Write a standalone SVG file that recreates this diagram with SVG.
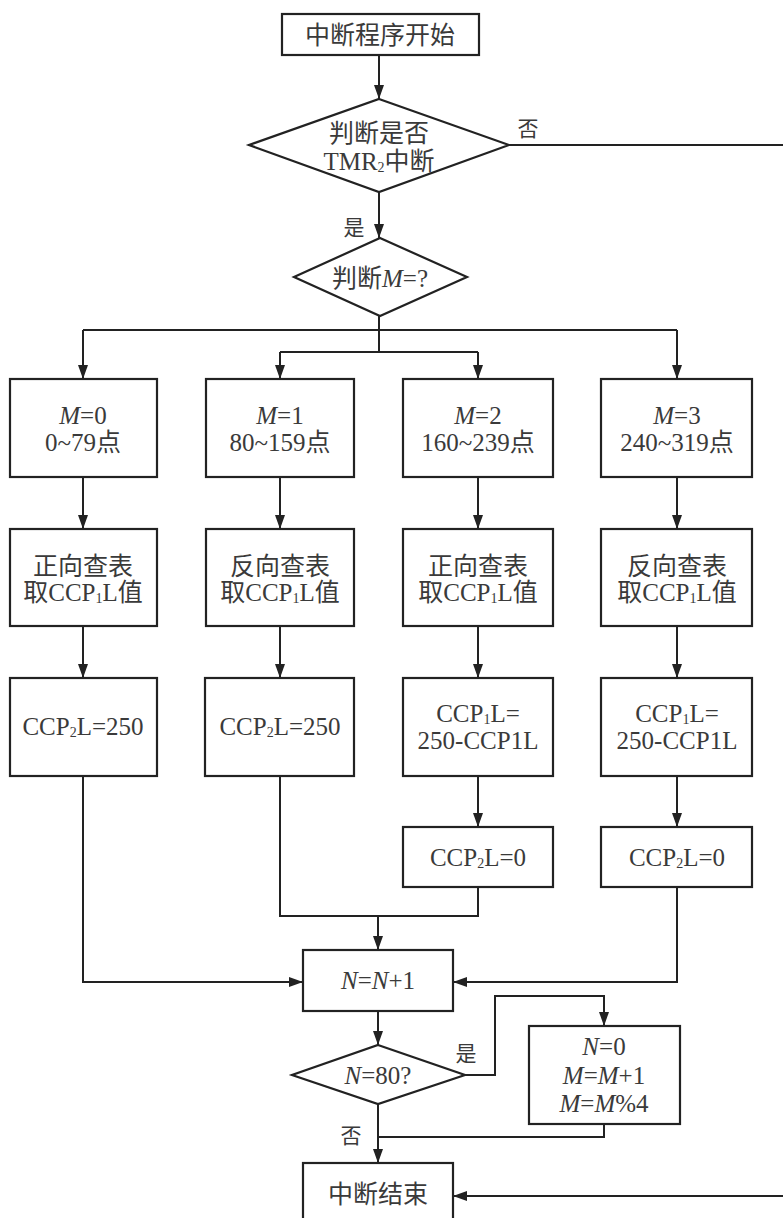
<svg xmlns="http://www.w3.org/2000/svg" width="783" height="1218" viewBox="0 0 783 1218">
<defs>
<marker id="ah" viewBox="0 0 14 10" refX="14" refY="5" markerWidth="14" markerHeight="10" orient="auto" markerUnits="userSpaceOnUse">
<path d="M0,0 L14,5 L0,10 z" fill="#222"/>
</marker>
<style>
.b{fill:#fff;stroke:#222;stroke-width:2.2}
.c{fill:none;stroke:#222;stroke-width:2}
.a{marker-end:url(#ah)}
text{font-family:"Liberation Serif","Noto Sans CJK SC",serif;font-size:25px;fill:#3a3a3a;text-anchor:middle}
.l{font-size:21px}
.i{font-style:italic}
.s{font-size:14px}
</style>
</defs>
<rect width="783" height="1218" fill="#fff"/>
<g id="connectors">
<path class="c a" d="M379,55 V99"/>
<path class="c" d="M509,145 H783"/>
<path class="c a" d="M379,192 V238"/>
<path class="c" d="M379,316 V352 M83,330 H677 M280,352 H478"/>
<path class="c a" d="M83,330 V379"/>
<path class="c a" d="M677,330 V379"/>
<path class="c a" d="M280,352 V379"/>
<path class="c a" d="M478,352 V379"/>
<path class="c a" d="M83,477 V529"/>
<path class="c a" d="M280,477 V529"/>
<path class="c a" d="M478,477 V529"/>
<path class="c a" d="M677,477 V529"/>
<path class="c a" d="M83,626 V678"/>
<path class="c a" d="M280,626 V678"/>
<path class="c a" d="M478,626 V678"/>
<path class="c a" d="M677,626 V678"/>
<path class="c a" d="M478,776 V827"/>
<path class="c a" d="M677,776 V827"/>
<path class="c a" d="M83,776 V982 H303"/>
<path class="c" d="M280,776 V916 H478 V887"/>
<path class="c a" d="M378,916 V950"/>
<path class="c a" d="M677,887 V982 H453"/>
<path class="c a" d="M378,1011 V1045"/>
<path class="c a" d="M465,1075 H495 V996 H604 V1026"/>
<path class="c" d="M604,1124 V1137 H378"/>
<path class="c a" d="M378,1104 V1163"/>
<path class="c a" d="M783,1196 H453"/>
<text class="l" x="528" y="136">否</text>
<text class="l" x="354" y="235">是</text>
<text class="l" x="466" y="1061">是</text>
<text class="l" x="351" y="1143">否</text>
</g>
<g id="start"><rect class="b" x="282" y="14" width="197" height="41"/><text x="380" y="44">中断程序开始</text></g>
<g id="d1"><polygon class="b" points="379,99 509,145 379,192 249,145"/><text x="379" y="142">判断是否</text><text x="379" y="170">TMR<tspan class="s" dy="2">2</tspan><tspan dy="-2">中断</tspan></text></g>
<g id="d2"><polygon class="b" points="380,238 467,277 380,316 294,277"/><text x="380" y="287">判断<tspan class="i">M</tspan>=?</text></g>
<g id="m0"><rect class="b" x="10" y="379" width="147" height="98"/><text x="83" y="424"><tspan class="i">M</tspan>=0</text><text x="83" y="451">0~79点</text></g>
<g id="m1"><rect class="b" x="206" y="379" width="148" height="98"/><text x="280" y="424"><tspan class="i">M</tspan>=1</text><text x="280" y="451">80~159点</text></g>
<g id="m2"><rect class="b" x="403" y="379" width="150" height="98"/><text x="478" y="424"><tspan class="i">M</tspan>=2</text><text x="478" y="451">160~239点</text></g>
<g id="m3"><rect class="b" x="601" y="379" width="151" height="98"/><text x="677" y="424"><tspan class="i">M</tspan>=3</text><text x="677" y="451">240~319点</text></g>
<g id="t0"><rect class="b" x="10" y="529" width="147" height="97"/><text x="83" y="575">正向查表</text><text x="83" y="601">取CCP<tspan class="s" dy="2">1</tspan><tspan dy="-2">L值</tspan></text></g>
<g id="t1"><rect class="b" x="206" y="529" width="148" height="97"/><text x="280" y="575">反向查表</text><text x="280" y="601">取CCP<tspan class="s" dy="2">1</tspan><tspan dy="-2">L值</tspan></text></g>
<g id="t2"><rect class="b" x="403" y="529" width="150" height="97"/><text x="478" y="575">正向查表</text><text x="478" y="601">取CCP<tspan class="s" dy="2">1</tspan><tspan dy="-2">L值</tspan></text></g>
<g id="t3"><rect class="b" x="601" y="529" width="151" height="97"/><text x="677" y="575">反向查表</text><text x="677" y="601">取CCP<tspan class="s" dy="2">1</tspan><tspan dy="-2">L值</tspan></text></g>
<g id="c0"><rect class="b" x="10" y="678" width="147" height="98"/><text x="83" y="735">CCP<tspan class="s" dy="2">2</tspan><tspan dy="-2">L=250</tspan></text></g>
<g id="c1"><rect class="b" x="205" y="678" width="149" height="98"/><text x="280" y="735">CCP<tspan class="s" dy="2">2</tspan><tspan dy="-2">L=250</tspan></text></g>
<g id="c2"><rect class="b" x="403" y="678" width="150" height="98"/><text x="478" y="722">CCP<tspan class="s" dy="2">1</tspan><tspan dy="-2">L=</tspan></text><text x="478" y="749">250-CCP1L</text></g>
<g id="c3"><rect class="b" x="601" y="678" width="151" height="98"/><text x="677" y="722">CCP<tspan class="s" dy="2">1</tspan><tspan dy="-2">L=</tspan></text><text x="677" y="749">250-CCP1L</text></g>
<g id="z2"><rect class="b" x="403" y="827" width="150" height="60"/><text x="478" y="866">CCP<tspan class="s" dy="2">2</tspan><tspan dy="-2">L=0</tspan></text></g>
<g id="z3"><rect class="b" x="601" y="827" width="151" height="60"/><text x="677" y="866">CCP<tspan class="s" dy="2">2</tspan><tspan dy="-2">L=0</tspan></text></g>
<g id="inc"><rect class="b" x="303" y="950" width="150" height="61"/><text x="378" y="989"><tspan class="i">N</tspan>=<tspan class="i">N</tspan>+1</text></g>
<g id="d3"><polygon class="b" points="378,1045 465,1075 378,1104 292,1075"/><text x="378" y="1084"><tspan class="i">N</tspan>=80?</text></g>
<g id="reset"><rect class="b" x="529" y="1026" width="151" height="98"/><text x="604" y="1055"><tspan class="i">N</tspan>=0</text><text x="604" y="1084"><tspan class="i">M</tspan>=<tspan class="i">M</tspan>+1</text><text x="604" y="1112"><tspan class="i">M</tspan>=<tspan class="i">M</tspan>%4</text></g>
<g id="end"><rect class="b" x="303" y="1163" width="150" height="70"/><text x="378" y="1203">中断结束</text></g>
</svg>
